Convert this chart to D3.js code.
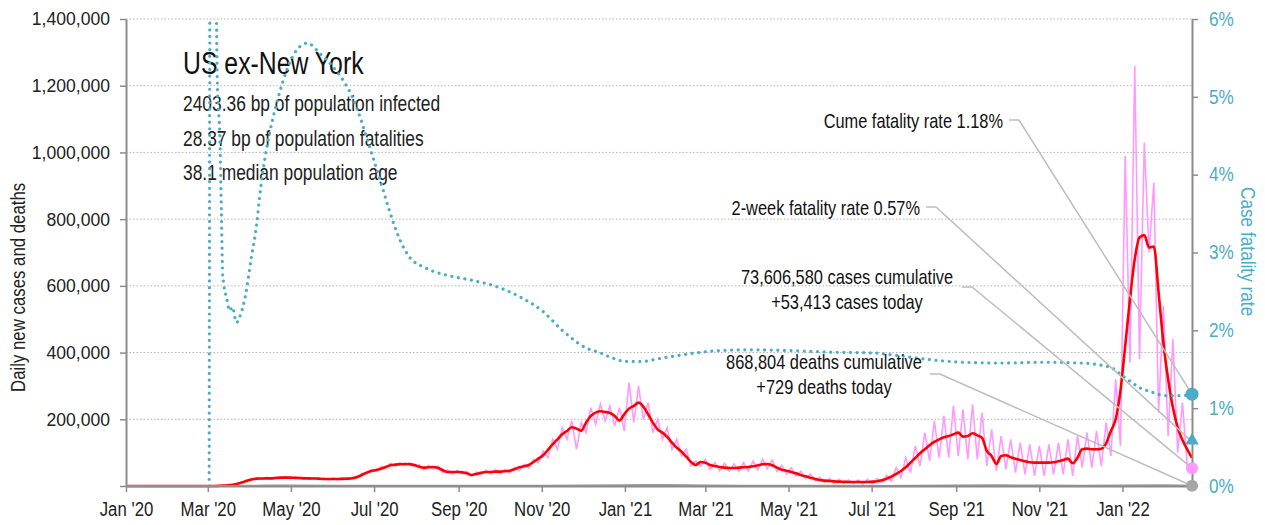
<!DOCTYPE html>
<html>
<head>
<meta charset="utf-8">
<title>US ex-New York</title>
<script src="https://d3js.org/d3.v7.min.js"></script>
<style>
    body { margin: 0; background: #fff; }
    svg text { font-family: "Liberation Sans", Arial, sans-serif; }
</style>
</head>
<body>
<svg id="chart" width="1265" height="525"></svg>
<script>
// daily new cases, 7-day average (thousands), one reading every half week from Jan 2 2020
var casesAvg = [
    0, 0, 0, 0, 0, 0, 0, 0, 0, 0, 0, 0, 0, 0, 0, 0, 0,
    0.1, 0.2, 0.5, 1, 2, 4, 7, 11, 16, 20, 22, 22.5, 23, 23, 24, 25, 25, 25, 24.5, 24, 23, 23, 22.5, 22,
    21, 21, 21, 21, 21.5, 22, 23, 27, 33, 40, 45, 48, 52, 57, 62, 64, 65, 66, 65, 63,
    58, 55, 56, 57, 54, 47, 42, 42, 42, 41, 38, 33, 36, 40, 42, 42, 43, 43, 44, 46,
    50, 56, 59, 63, 72, 82, 92, 108, 125, 140, 155, 165, 176, 172, 166, 190, 210, 220, 224, 222,
    219, 210, 196, 215, 232, 240, 250, 238, 215, 190, 170, 160, 147, 130, 115, 103, 88, 72, 63, 72,
    70, 63, 60, 57, 55, 54, 54, 55, 56, 57, 59, 62, 65, 66, 62, 55, 49, 46, 42, 38,
    33, 29, 25, 21, 18, 16, 15, 14, 13, 12.5, 12, 12, 12, 12, 12, 13, 14, 17, 22, 28,
    36, 45, 56, 70, 84, 98, 110, 122, 132, 140, 146, 150, 155, 160, 148, 150, 158, 152, 144, 105,
    90, 66, 90, 92, 86, 82, 78, 74, 71, 70, 70, 70, 70, 71, 74, 78, 82, 68, 85, 110,
    112, 110, 110, 112, 128, 165, 200, 285, 420, 560, 680, 745, 752, 715, 718, 580, 430, 320, 235, 175,
    138, 110, 84
];

// daily new cases as reported (thousands), same half-week readings
var casesDaily = [
    0, 0, 0, 0, 0, 0, 0, 0, 0, 0, 0, 0, 0, 0, 0, 0, 0,
    0.1, 0.2, 0.8, 1, 3, 4, 9, 10, 19, 18, 25, 20, 26, 21, 27, 22, 29, 22, 27, 21, 26, 20, 25, 19,
    24, 18, 24, 18, 25, 19, 26, 24, 38, 36, 50, 44, 58, 52, 68, 59, 70, 61, 70, 58,
    64, 50, 62, 50, 60, 40, 48, 36, 47, 36, 44, 30, 42, 34, 47, 36, 49, 37, 50, 38,
    56, 46, 65, 54, 80, 70, 105, 85, 140, 110, 175, 140, 195, 110, 190, 160, 235, 185, 245, 195,
    240, 180, 235, 165, 310, 190, 300, 200, 250, 160, 200, 140, 175, 110, 140, 90, 110, 60, 75, 60,
    80, 50, 70, 46, 68, 44, 66, 44, 70, 45, 74, 48, 80, 52, 78, 44, 62, 36, 54, 30,
    44, 22, 36, 15, 26, 10, 22, 8, 20, 8, 18, 7, 18, 5, 20, 6, 22, 10, 32, 14,
    55, 25, 85, 40, 120, 60, 160, 75, 195, 85, 210, 85, 240, 90, 230, 80, 245, 80, 220, 60,
    170, 45, 150, 50, 140, 40, 130, 35, 125, 30, 120, 30, 125, 35, 130, 35, 140, 30, 150, 55,
    160, 55, 165, 60, 190, 90, 320, 120, 990, 370, 1260, 380, 1030, 700, 910, 220, 540, 150, 440, 100,
    250, 60, 53.4
];

// daily deaths (thousands), monthly readings
var deathDates = ["2020-01-01", "2020-03-01", "2020-03-15", "2020-04-01", "2020-04-15", "2020-05-01", "2020-06-01",
    "2020-07-01", "2020-08-01", "2020-09-01", "2020-10-01", "2020-11-01", "2020-12-01", "2021-01-01", "2021-01-15",
    "2021-02-01", "2021-03-01", "2021-04-01", "2021-05-01", "2021-06-01", "2021-07-01", "2021-08-01", "2021-09-01",
    "2021-10-01", "2021-11-01", "2021-12-01", "2022-01-01", "2022-02-01", "2022-02-21"];
var deathVals = [0, 0, 0.05, 0.5, 1.2, 1.3, 0.8, 0.5, 1.0, 0.9, 0.7, 0.8, 1.8, 2.5, 3.0,
    2.8, 1.8, 0.9, 0.7, 0.5, 0.25, 0.4, 1.4, 1.9, 1.2, 1.1, 1.3, 2.3, 0.73];

// cumulative case fatality rate (%)
var cfrDates = ["2020-03-02", "2020-03-03", "2020-03-06", "2020-03-08", "2020-03-10", "2020-03-11", "2020-03-12",
    "2020-03-15", "2020-03-17", "2020-03-19", "2020-03-22", "2020-03-25", "2020-03-29", "2020-04-02", "2020-04-06",
    "2020-04-08", "2020-04-13", "2020-04-18", "2020-04-25", "2020-05-02", "2020-05-13", "2020-05-22", "2020-06-03",
    "2020-06-15", "2020-06-30", "2020-07-07", "2020-07-12", "2020-07-20", "2020-07-27", "2020-08-08", "2020-08-28",
    "2020-09-09", "2020-09-29", "2020-10-16", "2020-11-02", "2020-11-16", "2020-12-04", "2020-12-14", "2020-12-22",
    "2021-01-02", "2021-01-13", "2021-01-27", "2021-02-18", "2021-03-11", "2021-04-03", "2021-05-03", "2021-06-01",
    "2021-07-01", "2021-07-23", "2021-08-14", "2021-09-05", "2021-10-04", "2021-11-02", "2021-12-02", "2021-12-17",
    "2021-12-24", "2021-12-31", "2022-01-07", "2022-01-14", "2022-01-22", "2022-01-29", "2022-02-05", "2022-02-13",
    "2022-02-21"];
var cfrVals = [0, 9, 8, 5.2, 4.4, 3.5, 2.7,
    2.4, 2.25, 2.3, 2.1, 2.2, 2.48, 2.94, 3.38,
    3.71, 4.32, 4.74, 5.19, 5.51, 5.69, 5.56, 5.34,
    5.0, 4.23, 3.84, 3.55, 3.16, 2.94, 2.8, 2.69,
    2.65, 2.56, 2.43, 2.24, 2.0, 1.77, 1.71, 1.65,
    1.60, 1.60, 1.64, 1.70, 1.74, 1.75, 1.74, 1.72,
    1.71, 1.67, 1.62, 1.59, 1.58, 1.59, 1.58, 1.55,
    1.52, 1.43, 1.34, 1.26, 1.21, 1.17, 1.16, 1.16,
    1.18];

var leftTicks = [0, 200000, 400000, 600000, 800000, 1000000, 1200000, 1400000];
var rightTicks = [0, 1, 2, 3, 4, 5, 6];
var statLines = ["2403.36 bp of population infected", "28.37 bp of population fatalities", "38.1 median population age"];

var cumeRate = 1.18, twoWeekRate = 0.57, casesToday = 53413, deathsToday = 729;

var teal = "#4bacc6", pink = "#ff99ff", red = "#ff0000", grey = "#a6a6a6";

var svg = d3.select("#chart");
var parse = d3.timeParse("%Y-%m-%d");
var start = new Date(2020, 0, 1), end = new Date(2022, 1, 21);

var x = d3.scaleTime().domain([start, end]).range([126, 1192]);
var y = d3.scaleLinear().domain([0, 1400000]).range([486, 19]);
var y2 = d3.scaleLinear().domain([0, 6]).range([486, 19]);

var halfWeekStart = new Date(2020, 0, 2, 12);
var dates = casesAvg.map(function (d, i) { return d3.timeHour.offset(halfWeekStart, 84 * i); });

// the reference type is a condensed face; squeeze the glyphs horizontally
function squeeze(sel, f) {
    sel.each(function () {
        var len = this.getComputedTextLength();
        d3.select(this).attr("textLength", len * f).attr("lengthAdjust", "spacingAndGlyphs");
    });
}

// grid
svg.append("g").selectAll("line")
    .data(leftTicks.slice(1))
    .join("line")
    .attr("x1", 126).attr("x2", 1192)
    .attr("y1", function (d) { return y(d); }).attr("y2", function (d) { return y(d); })
    .attr("stroke", "#b3b3b3").attr("stroke-width", 1).attr("stroke-dasharray", "1.5 2");

// header text
svg.append("text").attr("x", 183).attr("y", 74).attr("font-size", 31).attr("fill", "#111")
    .text("US ex-New York").call(squeeze, 0.8);
svg.append("g").selectAll("text")
    .data(statLines)
    .join("text")
    .attr("x", 183).attr("y", function (d, i) { return 111 + i * 34.5; })
    .attr("font-size", 22).attr("fill", "#222")
    .text(function (d) { return d; })
    .call(squeeze, 0.79);

svg.append("defs").append("clipPath").attr("id", "plot")
    .append("rect").attr("x", 120).attr("y", 19).attr("width", 1080).attr("height", 470);

var plot = svg.append("g").attr("clip-path", "url(#plot)");

plot.append("path")
    .datum(casesDaily)
    .attr("fill", "none").attr("stroke", pink).attr("stroke-width", 1.6)
    .attr("d", d3.line().x(function (d, i) { return x(dates[i]); }).y(function (d) { return y(d * 1000); }));

plot.append("path")
    .datum(casesAvg)
    .attr("fill", "none").attr("stroke", red).attr("stroke-width", 2.6).attr("stroke-linejoin", "round")
    .attr("d", d3.line().curve(d3.curveMonotoneX).x(function (d, i) { return x(dates[i]); }).y(function (d) { return y(d * 1000); }));

plot.append("path")
    .datum(deathVals)
    .attr("fill", "none").attr("stroke", "#999").attr("stroke-width", 2)
    .attr("d", d3.line().x(function (d, i) { return x(parse(deathDates[i])); }).y(function (d) { return y(d * 1000); }));

plot.append("path")
    .datum(cfrVals)
    .attr("fill", "none").attr("stroke", teal).attr("stroke-width", 3.2)
    .attr("stroke-linecap", "round").attr("stroke-dasharray", "0.01 6.6")
    .attr("d", d3.line().curve(d3.curveMonotoneX).x(function (d, i) { return x(parse(cfrDates[i])); }).y(function (d) { return y2(d); }));

// axes
var axisColor = "#8c8c8c";
var gl = svg.append("g").attr("transform", "translate(126,0)")
    .call(d3.axisLeft(y).tickValues(leftTicks).tickSize(6).tickSizeOuter(0).tickPadding(10)
        .tickFormat(function (d) { return d === 0 ? "" : d3.format(",")(d); }));
var gr = svg.append("g").attr("transform", "translate(1192,0)")
    .call(d3.axisRight(y2).tickValues(rightTicks).tickSize(6).tickSizeOuter(0).tickPadding(11)
        .tickFormat(function (d) { return d + "%"; }));
var gb = svg.append("g").attr("transform", "translate(0,486)")
    .call(d3.axisBottom(x).ticks(d3.timeMonth.every(2)).tickSize(6).tickSizeOuter(0).tickPadding(10)
        .tickFormat(d3.timeFormat("%b '%y")));

[gl, gr, gb].forEach(function (g) {
    g.select(".domain").attr("stroke", axisColor).attr("stroke-width", 2);
    g.selectAll(".tick line").attr("stroke", axisColor).attr("stroke-width", 1.5);
    g.selectAll("text").attr("font-family", null).attr("font-size", 18.5).attr("fill", "#222");
});
gb.selectAll("text").attr("font-size", 19.5);
gr.selectAll("text").attr("fill", teal).attr("font-size", 19.5);
gl.selectAll("text").call(squeeze, 0.95);
gb.selectAll("text").call(squeeze, 0.86);
gr.selectAll("text").call(squeeze, 0.88);

svg.append("text")
    .attr("transform", "translate(25,392) rotate(-90)")
    .attr("font-size", 21).attr("fill", "#222")
    .text("Daily new cases and deaths").call(squeeze, 0.8);
svg.append("text")
    .attr("transform", "translate(1241,187) rotate(90)")
    .attr("font-size", 21).attr("fill", teal)
    .text("Case fatality rate").call(squeeze, 0.82);

// annotations
var mx = x(end);
var notes = [
    { lines: ["Cume fatality rate 1.18%"], tx: 1003, ty: 128, anchor: "end", lx: 1009, ly: 120, target: y2(cumeRate) },
    { lines: ["2-week fatality rate 0.57%"], tx: 920, ty: 215, anchor: "end", lx: 926, ly: 207, target: y2(twoWeekRate) },
    { lines: ["73,606,580 cases cumulative", "+53,413 cases today"], tx: 847, ty: 284, anchor: "middle", lx: 962, ly: 287, target: y(casesToday) },
    { lines: ["868,804 deaths cumulative", "+729 deaths today"], tx: 824, ty: 369, anchor: "middle", lx: 930, ly: 374, target: y(deathsToday) }
];

notes.forEach(function (n) {
    svg.append("path")
        .attr("d", d3.line()([[n.lx, n.ly], [n.lx + 10, n.ly], [mx, n.target]]))
        .attr("fill", "none").attr("stroke", "#bdbdbd").attr("stroke-width", 1.5);
    n.lines.forEach(function (t, i) {
        svg.append("text")
            .attr("x", n.tx).attr("y", n.ty + i * 24.5)
            .attr("text-anchor", n.anchor)
            .attr("font-size", 21).attr("fill", "#111")
            .text(t)
            .call(squeeze, 0.78);
    });
});

// end markers
svg.append("circle").attr("cx", mx).attr("cy", y2(cumeRate)).attr("r", 6.5).attr("fill", teal);
svg.append("path")
    .attr("d", d3.symbol().type(d3.symbolTriangle).size(80)())
    .attr("transform", "translate(" + mx + "," + (y2(twoWeekRate) - 1) + ")")
    .attr("fill", teal);
svg.append("circle").attr("cx", mx).attr("cy", y(casesToday)).attr("r", 6).attr("fill", pink);
svg.append("circle").attr("cx", mx).attr("cy", y(deathsToday)).attr("r", 6).attr("fill", grey);
</script>
</body>
</html>
